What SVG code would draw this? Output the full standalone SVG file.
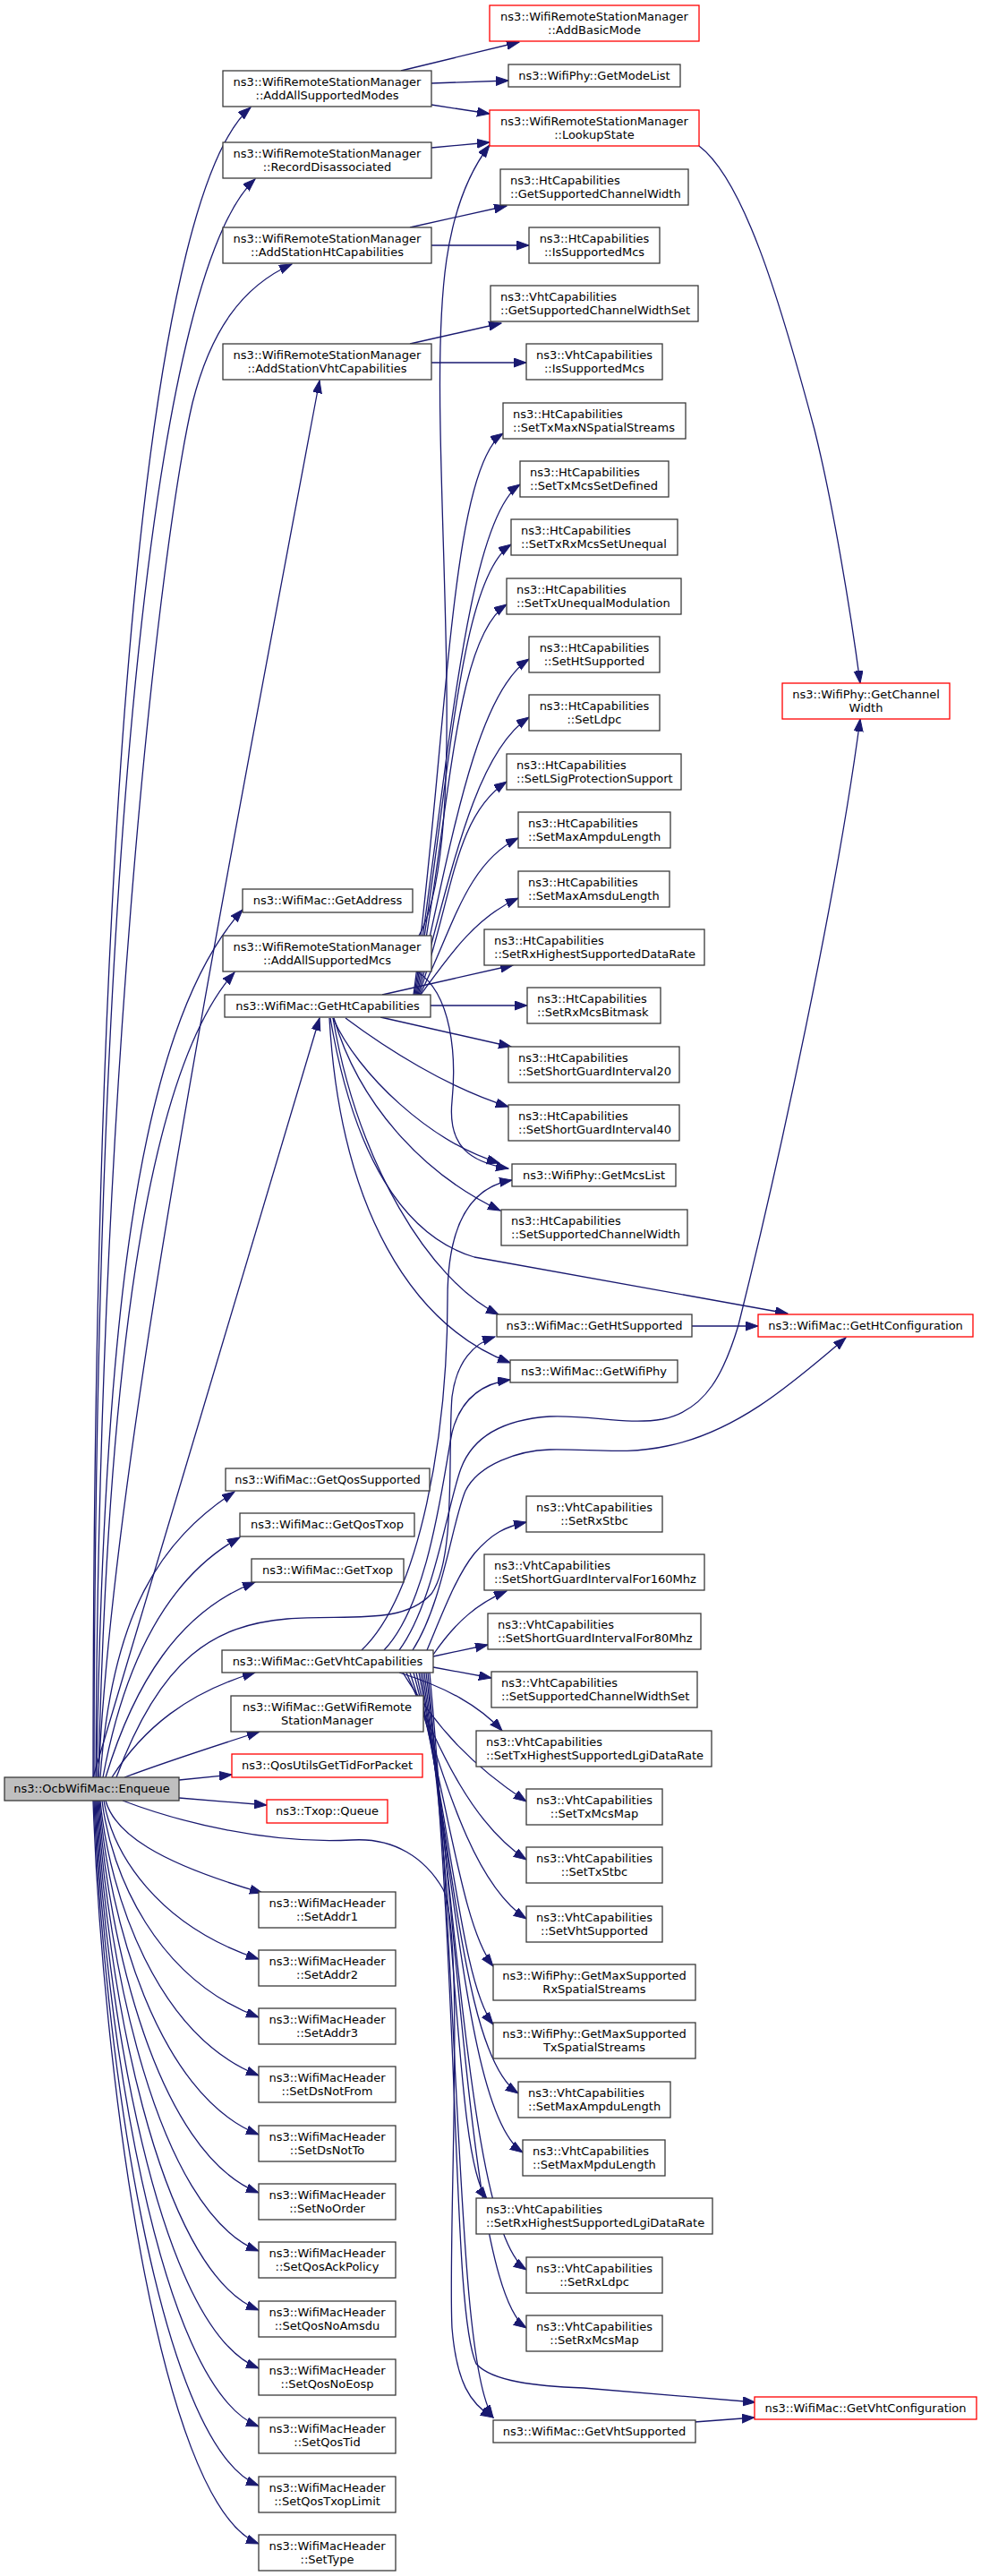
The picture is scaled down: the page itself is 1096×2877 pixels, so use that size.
<svg xmlns="http://www.w3.org/2000/svg" width="1096" height="2877" viewBox="0 0 1096 2877">
<style>
.n rect{fill:#fff;stroke:#3a3a3a;stroke-width:1.3}
.r rect{fill:#fff;stroke:#ff0000;stroke-width:1.3}
.g rect{fill:#bfbfbf;stroke:#3a3a3a;stroke-width:1.3}
text{font-family:'DejaVu Sans','Liberation Sans',sans-serif;font-size:13px;fill:#000}
.c{text-anchor:middle}
.e path{fill:none;stroke:#191970;stroke-width:1.3;marker-end:url(#a)}
</style>
<defs>
<marker id="a" markerWidth="15" markerHeight="11" refX="14" refY="5" orient="auto" markerUnits="userSpaceOnUse"><path d="M0,0L14,5L0,10z" fill="#191970" stroke="#191970" stroke-width="1"/></marker>
</defs>
<rect x="0" y="0" width="1096" height="2877" fill="#fff"/>
<g class="e" id="edges">
<path d="M104,1985 C104,800 175,210 280,120"/>
<path d="M105,1985 C106,900 178,300 285,200"/>
<path d="M107,1985 C110,1200 180,600 215,450 C235,370 270,320 326,295"/>
<path d="M110,1985 C125,1650 230,1100 357,425"/>
<path d="M108,1985 C115,1500 150,1150 271,1016"/>
<path d="M110,1985 C120,1550 160,1200 262,1086"/>
<path d="M104,1985 L357,1137"/>
<path d="M112,1985 C125,1800 180,1720 262,1666"/>
<path d="M115,1985 C140,1850 190,1760 268,1717"/>
<path d="M118,1985 C150,1880 200,1800 285,1767"/>
<path d="M125,1985 C160,1930 210,1890 285,1868"/>
<path d="M139,1985 C190,1966 240,1950 290,1934"/>
<path d="M200,1988 L259,1982"/>
<path d="M200,2008 L298,2016"/>
<path d="M130,1985 C180,1850 240,1815 321,1808 C390,1803 450,1815 482,1780 C510,1740 500,1620 505,1560 C510,1520 530,1500 553,1493"/>
<path d="M137,2011 C200,2035 300,2060 393,2055 C440,2052 475,2075 495,2110 C520,2160 500,2500 505,2600 C510,2660 525,2685 551,2700"/>
<path d="M118,2011 C128,2047 175,2080 293,2114"/>
<path d="M116,2011 C126,2070 175,2150 289,2188"/>
<path d="M114,2011 C124,2094 175,2210 289,2253"/>
<path d="M112,2011 C122,2116 175,2273 289,2318"/>
<path d="M111,2011 C121,2140 175,2339 289,2384"/>
<path d="M110,2011 C120,2164 175,2404 289,2449"/>
<path d="M109,2011 C119,2187 175,2469 289,2514"/>
<path d="M108,2011 C118,2210 175,2535 289,2580"/>
<path d="M107,2011 C117,2233 175,2600 289,2645"/>
<path d="M106,2011 C116,2255 175,2665 289,2710"/>
<path d="M105,2011 C115,2278 175,2731 289,2776"/>
<path d="M104,2011 C114,2301 175,2796 289,2841"/>
<path d="M448,79 L580,47"/>
<path d="M482,93 L568,90"/>
<path d="M482,117 L547,127"/>
<path d="M482,165 L547,159"/>
<path d="M468,1045 C515,960 496,700 492,480 C489,330 495,230 547,162"/>
<path d="M781,163 C830,200 870,330 910,480 C930,560 950,680 961,763"/>
<path d="M458,254 L566,230"/>
<path d="M482,274 L591,274"/>
<path d="M458,384 L560,361"/>
<path d="M482,405 L588,405"/>
<path d="M466,1085 C505,1110 510,1180 505,1230 C500,1280 525,1298 568,1305"/>
<path d="M462,1111 C500,829 502,524 562,484"/>
<path d="M463,1111 C501,855 521,581 581,541"/>
<path d="M464,1111 C502,885 511,648 571,608"/>
<path d="M465,1111 C503,915 506,715 566,675"/>
<path d="M466,1111 C504,942 531,776 591,736"/>
<path d="M467,1111 C505,971 531,841 591,801"/>
<path d="M468,1111 C506,1004 506,913 566,873"/>
<path d="M469,1111 C505,1040 520,965 579,936"/>
<path d="M470,1111 C500,1070 530,1025 579,1003"/>
<path d="M427,1111 L573,1078"/>
<path d="M481,1123 L589,1123"/>
<path d="M425,1136 L571,1169"/>
<path d="M386,1137 C430,1170 500,1215 568,1236"/>
<path d="M372,1137 C400,1200 480,1275 558,1299"/>
<path d="M373,1137 C400,1230 470,1310 559,1352"/>
<path d="M369,1137 C395,1290 450,1380 530,1404 L880,1467"/>
<path d="M372,1137 C400,1300 480,1430 557,1468"/>
<path d="M368,1137 C380,1350 460,1480 570,1522"/>
<path d="M773,1481 L847,1481"/>
<path d="M404,1843 C470,1780 500,1600 500,1450 C500,1360 530,1325 572,1318"/>
<path d="M429,1843 C480,1790 495,1650 505,1600 C515,1560 540,1545 570,1541"/>
<path d="M446,1843 C485,1790 500,1680 515,1640 C530,1600 570,1585 614,1582 C660,1580 700,1592 740,1585 C790,1575 810,1530 825,1480 C870,1300 935,1000 961,803"/>
<path d="M461,1843 C495,1790 505,1700 520,1665 C535,1635 580,1620 614,1619 C660,1618 700,1625 745,1615 C820,1600 880,1550 945,1494"/>
<path d="M477,1843 C495,1800 510,1760 530,1735 C550,1712 565,1705 588,1700"/>
<path d="M484,1848 C510,1810 535,1790 566,1777"/>
<path d="M484,1850 L545,1837"/>
<path d="M484,1862 L549,1874"/>
<path d="M446,1868 C500,1885 535,1905 561,1933"/>
<path d="M450,1868 C490,1933 528,1972 588,2012"/>
<path d="M454,1868 C494,1962 528,2037 588,2077"/>
<path d="M458,1868 C498,1992 528,2103 588,2143"/>
<path d="M462,1868 C502,2016 516,2151 551,2196"/>
<path d="M465,1868 C505,2045 516,2216 551,2261"/>
<path d="M468,1868 C508,2080 519,2298 579,2338"/>
<path d="M470,1868 C510,2109 524,2364 584,2404"/>
<path d="M472,1868 C512,2133 509,2411 544,2456"/>
<path d="M474,1868 C514,2168 528,2495 588,2535"/>
<path d="M476,1868 C516,2197 528,2560 588,2600"/>
<path d="M478,1868 C515,2250 505,2580 532,2640 C550,2660 600,2665 652,2667 L844,2683"/>
<path d="M480,1868 C515,2250 510,2640 551,2700"/>
<path d="M776,2705 L843,2700"/>
</g>
<g id="n_enqueue" class="g"><rect x="5" y="1985" width="195" height="26"/><text class="c" x="102.5" y="2002">ns3::OcbWifiMac::Enqueue</text></g>
<g id="n_aasm" class="n"><rect x="249" y="79" width="233" height="40"/><text class="c" x="365.5" y="96">ns3::WifiRemoteStationManager</text><text class="c" x="365.5" y="110.5">::AddAllSupportedModes</text></g>
<g id="n_rd" class="n"><rect x="249" y="159" width="233" height="40"/><text class="c" x="365.5" y="176">ns3::WifiRemoteStationManager</text><text class="c" x="365.5" y="190.5">::RecordDisassociated</text></g>
<g id="n_ashc" class="n"><rect x="249" y="254" width="233" height="40"/><text class="c" x="365.5" y="271">ns3::WifiRemoteStationManager</text><text class="c" x="365.5" y="285.5">::AddStationHtCapabilities</text></g>
<g id="n_asvc" class="n"><rect x="249" y="384" width="233" height="40"/><text class="c" x="365.5" y="401">ns3::WifiRemoteStationManager</text><text class="c" x="365.5" y="415.5">::AddStationVhtCapabilities</text></g>
<g id="n_ga" class="n"><rect x="271" y="993" width="190" height="26"/><text class="c" x="366" y="1010">ns3::WifiMac::GetAddress</text></g>
<g id="n_aasmcs" class="n"><rect x="249" y="1045" width="233" height="40"/><text class="c" x="365.5" y="1062">ns3::WifiRemoteStationManager</text><text class="c" x="365.5" y="1076.5">::AddAllSupportedMcs</text></g>
<g id="n_ghc" class="n"><rect x="251" y="1111" width="230" height="25"/><text class="c" x="366" y="1128">ns3::WifiMac::GetHtCapabilities</text></g>
<g id="n_gqs" class="n"><rect x="252" y="1640" width="228" height="25"/><text class="c" x="366" y="1657">ns3::WifiMac::GetQosSupported</text></g>
<g id="n_gqt" class="n"><rect x="268" y="1690" width="195" height="26"/><text class="c" x="365.5" y="1707">ns3::WifiMac::GetQosTxop</text></g>
<g id="n_gt" class="n"><rect x="281" y="1741" width="170" height="26"/><text class="c" x="366" y="1758">ns3::WifiMac::GetTxop</text></g>
<g id="n_gvc" class="n"><rect x="248" y="1843" width="236" height="25"/><text class="c" x="366" y="1860">ns3::WifiMac::GetVhtCapabilities</text></g>
<g id="n_gwrsm" class="n"><rect x="258" y="1894" width="215" height="40"/><text class="c" x="365.5" y="1911">ns3::WifiMac::GetWifiRemote</text><text class="c" x="365.5" y="1925.5">StationManager</text></g>
<g id="n_qos" class="r"><rect x="259" y="1959" width="213" height="26"/><text class="c" x="365.5" y="1976">ns3::QosUtilsGetTidForPacket</text></g>
<g id="n_queue" class="r"><rect x="298" y="2010" width="135" height="26"/><text class="c" x="365.5" y="2027">ns3::Txop::Queue</text></g>
<g id="n_addr1" class="n"><rect x="289" y="2113" width="153" height="40"/><text class="c" x="365.5" y="2130">ns3::WifiMacHeader</text><text class="c" x="365.5" y="2144.5">::SetAddr1</text></g>
<g id="n_addr2" class="n"><rect x="289" y="2178" width="153" height="40"/><text class="c" x="365.5" y="2195">ns3::WifiMacHeader</text><text class="c" x="365.5" y="2209.5">::SetAddr2</text></g>
<g id="n_addr3" class="n"><rect x="289" y="2243" width="153" height="40"/><text class="c" x="365.5" y="2260">ns3::WifiMacHeader</text><text class="c" x="365.5" y="2274.5">::SetAddr3</text></g>
<g id="n_dsnotfrom" class="n"><rect x="289" y="2308" width="153" height="40"/><text class="c" x="365.5" y="2325">ns3::WifiMacHeader</text><text class="c" x="365.5" y="2339.5">::SetDsNotFrom</text></g>
<g id="n_dsnotto" class="n"><rect x="289" y="2374" width="153" height="40"/><text class="c" x="365.5" y="2391">ns3::WifiMacHeader</text><text class="c" x="365.5" y="2405.5">::SetDsNotTo</text></g>
<g id="n_noorder" class="n"><rect x="289" y="2439" width="153" height="40"/><text class="c" x="365.5" y="2456">ns3::WifiMacHeader</text><text class="c" x="365.5" y="2470.5">::SetNoOrder</text></g>
<g id="n_qosack" class="n"><rect x="289" y="2504" width="153" height="40"/><text class="c" x="365.5" y="2521">ns3::WifiMacHeader</text><text class="c" x="365.5" y="2535.5">::SetQosAckPolicy</text></g>
<g id="n_qosnoamsdu" class="n"><rect x="289" y="2570" width="153" height="40"/><text class="c" x="365.5" y="2587">ns3::WifiMacHeader</text><text class="c" x="365.5" y="2601.5">::SetQosNoAmsdu</text></g>
<g id="n_qosnoeosp" class="n"><rect x="289" y="2635" width="153" height="40"/><text class="c" x="365.5" y="2652">ns3::WifiMacHeader</text><text class="c" x="365.5" y="2666.5">::SetQosNoEosp</text></g>
<g id="n_qostid" class="n"><rect x="289" y="2700" width="153" height="40"/><text class="c" x="365.5" y="2717">ns3::WifiMacHeader</text><text class="c" x="365.5" y="2731.5">::SetQosTid</text></g>
<g id="n_qostxop" class="n"><rect x="289" y="2766" width="153" height="40"/><text class="c" x="365.5" y="2783">ns3::WifiMacHeader</text><text class="c" x="365.5" y="2797.5">::SetQosTxopLimit</text></g>
<g id="n_settype" class="n"><rect x="289" y="2831" width="153" height="40"/><text class="c" x="365.5" y="2848">ns3::WifiMacHeader</text><text class="c" x="365.5" y="2862.5">::SetType</text></g>
<g id="n_addbasic" class="r"><rect x="547" y="6" width="234" height="40"/><text class="c" x="664" y="23">ns3::WifiRemoteStationManager</text><text class="c" x="664" y="37.5">::AddBasicMode</text></g>
<g id="n_modelist" class="n"><rect x="568" y="72" width="192" height="25"/><text class="c" x="664" y="89">ns3::WifiPhy::GetModeList</text></g>
<g id="n_lookup" class="r"><rect x="547" y="123" width="234" height="40"/><text class="c" x="664" y="140">ns3::WifiRemoteStationManager</text><text class="c" x="664" y="154.5">::LookupState</text></g>
<g id="n_htgscw" class="n"><rect x="559" y="189" width="210" height="40"/><text x="570" y="206">ns3::HtCapabilities</text><text x="570" y="220.5">::GetSupportedChannelWidth</text></g>
<g id="n_htism" class="n"><rect x="591" y="254" width="146" height="40"/><text class="c" x="664" y="271">ns3::HtCapabilities</text><text class="c" x="664" y="285.5">::IsSupportedMcs</text></g>
<g id="n_vhtgscws" class="n"><rect x="548" y="319" width="232" height="40"/><text x="559" y="336">ns3::VhtCapabilities</text><text x="559" y="350.5">::GetSupportedChannelWidthSet</text></g>
<g id="n_vhtism" class="n"><rect x="588" y="384" width="152" height="40"/><text class="c" x="664" y="401">ns3::VhtCapabilities</text><text class="c" x="664" y="415.5">::IsSupportedMcs</text></g>
<g id="n_txmaxnss" class="n"><rect x="562" y="450" width="204" height="40"/><text x="573" y="467">ns3::HtCapabilities</text><text x="573" y="481.5">::SetTxMaxNSpatialStreams</text></g>
<g id="n_txmcsdef" class="n"><rect x="581" y="515" width="166" height="40"/><text x="592" y="532">ns3::HtCapabilities</text><text x="592" y="546.5">::SetTxMcsSetDefined</text></g>
<g id="n_txrxuneq" class="n"><rect x="571" y="580" width="186" height="40"/><text x="582" y="597">ns3::HtCapabilities</text><text x="582" y="611.5">::SetTxRxMcsSetUnequal</text></g>
<g id="n_txuneqmod" class="n"><rect x="566" y="646" width="195" height="40"/><text x="577" y="663">ns3::HtCapabilities</text><text x="577" y="677.5">::SetTxUnequalModulation</text></g>
<g id="n_htsup" class="n"><rect x="591" y="711" width="146" height="40"/><text class="c" x="664" y="728">ns3::HtCapabilities</text><text class="c" x="664" y="742.5">::SetHtSupported</text></g>
<g id="n_ldpc" class="n"><rect x="591" y="776" width="146" height="40"/><text class="c" x="664" y="793">ns3::HtCapabilities</text><text class="c" x="664" y="807.5">::SetLdpc</text></g>
<g id="n_lsig" class="n"><rect x="566" y="842" width="195" height="40"/><text x="577" y="859">ns3::HtCapabilities</text><text x="577" y="873.5">::SetLSigProtectionSupport</text></g>
<g id="n_htampdu" class="n"><rect x="579" y="907" width="170" height="40"/><text x="590" y="924">ns3::HtCapabilities</text><text x="590" y="938.5">::SetMaxAmpduLength</text></g>
<g id="n_amsdu" class="n"><rect x="579" y="973" width="169" height="40"/><text x="590" y="990">ns3::HtCapabilities</text><text x="590" y="1004.5">::SetMaxAmsduLength</text></g>
<g id="n_rxhsdr" class="n"><rect x="541" y="1038" width="246" height="40"/><text x="552" y="1055">ns3::HtCapabilities</text><text x="552" y="1069.5">::SetRxHighestSupportedDataRate</text></g>
<g id="n_rxmcsbm" class="n"><rect x="589" y="1103" width="149" height="40"/><text x="600" y="1120">ns3::HtCapabilities</text><text x="600" y="1134.5">::SetRxMcsBitmask</text></g>
<g id="n_sgi20" class="n"><rect x="568" y="1169" width="191" height="40"/><text x="579" y="1186">ns3::HtCapabilities</text><text x="579" y="1200.5">::SetShortGuardInterval20</text></g>
<g id="n_sgi40" class="n"><rect x="568" y="1234" width="191" height="40"/><text x="579" y="1251">ns3::HtCapabilities</text><text x="579" y="1265.5">::SetShortGuardInterval40</text></g>
<g id="n_mcslist" class="n"><rect x="572" y="1300" width="183" height="25"/><text class="c" x="663.5" y="1317">ns3::WifiPhy::GetMcsList</text></g>
<g id="n_htscw" class="n"><rect x="560" y="1351" width="208" height="40"/><text x="571" y="1368">ns3::HtCapabilities</text><text x="571" y="1382.5">::SetSupportedChannelWidth</text></g>
<g id="n_ghtsup" class="n"><rect x="555" y="1468" width="218" height="25"/><text class="c" x="664" y="1485">ns3::WifiMac::GetHtSupported</text></g>
<g id="n_ghtconf" class="r"><rect x="847" y="1468" width="240" height="25"/><text class="c" x="967" y="1485">ns3::WifiMac::GetHtConfiguration</text></g>
<g id="n_gwifiphy" class="n"><rect x="570" y="1519" width="187" height="25"/><text class="c" x="663.5" y="1536">ns3::WifiMac::GetWifiPhy</text></g>
<g id="n_rxstbc" class="n"><rect x="588" y="1671" width="152" height="40"/><text class="c" x="664" y="1688">ns3::VhtCapabilities</text><text class="c" x="664" y="1702.5">::SetRxStbc</text></g>
<g id="n_sgi160" class="n"><rect x="541" y="1736" width="246" height="40"/><text x="552" y="1753">ns3::VhtCapabilities</text><text x="552" y="1767.5">::SetShortGuardIntervalFor160Mhz</text></g>
<g id="n_sgi80" class="n"><rect x="545" y="1802" width="238" height="40"/><text x="556" y="1819">ns3::VhtCapabilities</text><text x="556" y="1833.5">::SetShortGuardIntervalFor80Mhz</text></g>
<g id="n_vhtscws" class="n"><rect x="549" y="1867" width="230" height="40"/><text x="560" y="1884">ns3::VhtCapabilities</text><text x="560" y="1898.5">::SetSupportedChannelWidthSet</text></g>
<g id="n_txhslgi" class="n"><rect x="532" y="1933" width="263" height="40"/><text x="543" y="1950">ns3::VhtCapabilities</text><text x="543" y="1964.5">::SetTxHighestSupportedLgiDataRate</text></g>
<g id="n_txmcsmap" class="n"><rect x="588" y="1998" width="152" height="40"/><text class="c" x="664" y="2015">ns3::VhtCapabilities</text><text class="c" x="664" y="2029.5">::SetTxMcsMap</text></g>
<g id="n_txstbc" class="n"><rect x="588" y="2063" width="152" height="40"/><text class="c" x="664" y="2080">ns3::VhtCapabilities</text><text class="c" x="664" y="2094.5">::SetTxStbc</text></g>
<g id="n_vhtsup" class="n"><rect x="588" y="2129" width="152" height="40"/><text class="c" x="664" y="2146">ns3::VhtCapabilities</text><text class="c" x="664" y="2160.5">::SetVhtSupported</text></g>
<g id="n_maxrxss" class="n"><rect x="551" y="2194" width="226" height="40"/><text class="c" x="664" y="2211">ns3::WifiPhy::GetMaxSupported</text><text class="c" x="664" y="2225.5">RxSpatialStreams</text></g>
<g id="n_maxtxss" class="n"><rect x="551" y="2259" width="226" height="40"/><text class="c" x="664" y="2276">ns3::WifiPhy::GetMaxSupported</text><text class="c" x="664" y="2290.5">TxSpatialStreams</text></g>
<g id="n_vhtampdu" class="n"><rect x="579" y="2325" width="170" height="40"/><text x="590" y="2342">ns3::VhtCapabilities</text><text x="590" y="2356.5">::SetMaxAmpduLength</text></g>
<g id="n_mpdu" class="n"><rect x="584" y="2390" width="159" height="40"/><text x="595" y="2407">ns3::VhtCapabilities</text><text x="595" y="2421.5">::SetMaxMpduLength</text></g>
<g id="n_rxhslgi" class="n"><rect x="532" y="2455" width="264" height="40"/><text x="543" y="2472">ns3::VhtCapabilities</text><text x="543" y="2486.5">::SetRxHighestSupportedLgiDataRate</text></g>
<g id="n_rxldpc" class="n"><rect x="588" y="2521" width="152" height="40"/><text class="c" x="664" y="2538">ns3::VhtCapabilities</text><text class="c" x="664" y="2552.5">::SetRxLdpc</text></g>
<g id="n_rxmcsmap" class="n"><rect x="588" y="2586" width="152" height="40"/><text class="c" x="664" y="2603">ns3::VhtCapabilities</text><text class="c" x="664" y="2617.5">::SetRxMcsMap</text></g>
<g id="n_gvhtconf" class="r"><rect x="843" y="2677" width="248" height="25"/><text class="c" x="967" y="2694">ns3::WifiMac::GetVhtConfiguration</text></g>
<g id="n_gvhtsup" class="n"><rect x="551" y="2703" width="226" height="25"/><text class="c" x="664" y="2720">ns3::WifiMac::GetVhtSupported</text></g>
<g id="n_chw" class="r"><rect x="874" y="763" width="187" height="40"/><text class="c" x="967.5" y="780">ns3::WifiPhy::GetChannel</text><text class="c" x="967.5" y="794.5">Width</text></g>
</svg>
